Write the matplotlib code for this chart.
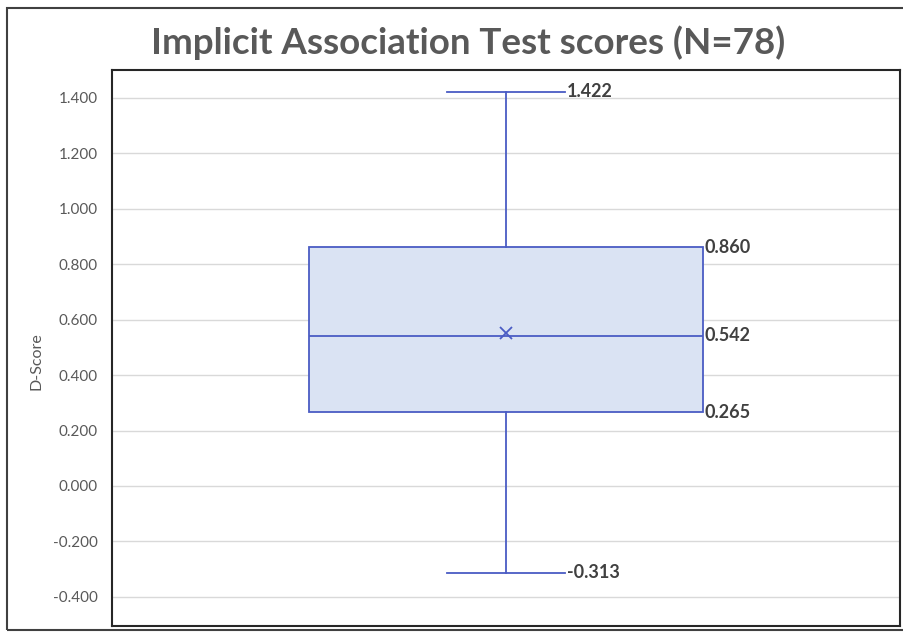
import matplotlib
matplotlib.use("Agg")
import matplotlib.pyplot as plt
from matplotlib.patches import Rectangle

# summary stats
q1 = 0.265
med = 0.542
q3 = 0.860
lo = -0.313
hi = 1.422
mean = 0.552
yticks = [-0.4, -0.2, 0.0, 0.2, 0.4, 0.6, 0.8, 1.0, 1.2, 1.4]

plt.rcParams['font.family'] = ['Lato', 'DejaVu Sans']

fig = plt.figure(figsize=(9.04, 6.34), dpi=100, facecolor='w')
ax = fig.add_axes([0.1239, 0.0126, 0.8717, 0.877])

blue = '#4a5cc4'
stats = [dict(med=med, q1=q1, q3=q3, whislo=lo, whishi=hi, mean=mean, fliers=[], label='')]
ax.bxp(stats, positions=[1], widths=0.5, capwidths=0.15, showmeans=True, patch_artist=True,
       boxprops=dict(facecolor='#dae3f3', edgecolor=blue, linewidth=1.3),
       medianprops=dict(color=blue, linewidth=1.3),
       whiskerprops=dict(color=blue, linewidth=1.3),
       capprops=dict(color=blue, linewidth=1.3),
       meanprops=dict(marker='x', markeredgecolor=blue, markersize=8, markeredgewidth=1.3))

# value labels
for v, x in [(hi, 1.075), (lo, 1.075), (q3, 1.25), (med, 1.25), (q1, 1.25)]:
    ax.text(x + 0.002, v, '%.3f' % v, ha='left', va='center', fontsize=13,
            fontweight='bold', color='#404040')

ax.set_xlim(0.5, 1.5)
ax.set_ylim(-0.505, 1.5)
ax.set_yticks(yticks)
ax.set_yticklabels(['%.3f' % t for t in yticks], color='#595959', fontsize=11)
ax.set_xticks([])
ax.tick_params(axis='y', length=0, pad=10)
ax.grid(axis='y', color='#d9d9d9', linewidth=1)
ax.set_axisbelow(True)
for s in ax.spines.values():
    s.set_color('#262626')
    s.set_linewidth(1.5)

fig.text(0.040, 0.43, 'D-Score', rotation=90, ha='center', va='center',
         color='#595959', fontsize=11.5)

fig.text(0.518, 0.932, 'Implicit Association Test scores (N=78)', ha='center', va='center',
         fontsize=26.5, fontweight='bold', color='#595959')

# outer chart border
fig.patches.append(Rectangle((0.008, 0.006), 1.0, 0.981, transform=fig.transFigure,
                             fill=False, edgecolor='#404040', linewidth=1.5))

fig.savefig('out.png', dpi=100)
